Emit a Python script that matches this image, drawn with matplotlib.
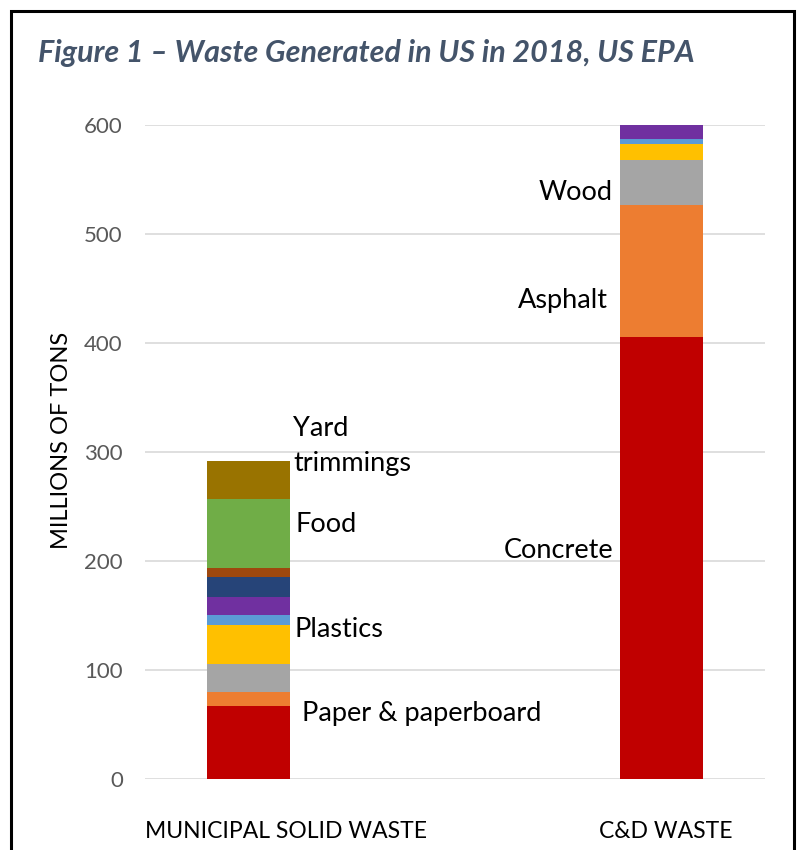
import matplotlib.pyplot as plt
import numpy as np
from matplotlib.patches import Rectangle

# EPA 2018 waste generation, millions of tons
categories = ['MUNICIPAL SOLID WASTE', 'C&D WASTE']

msw_materials = ['Paper & paperboard', 'Glass', 'Metals', 'Plastics', 'Rubber & leather',
                 'Textiles', 'Wood', 'Other', 'Food', 'Yard trimmings']
msw_tons = [67.4, 12.3, 25.6, 35.7, 9.2, 17.0, 18.1, 8.2, 63.1, 35.4]
msw_colors = ['#C00000', '#ED7D31', '#A5A5A5', '#FFC000', '#5B9BD5',
              '#7030A0', '#264478', '#9E480E', '#70AD47', '#997300']

cd_materials = ['Concrete', 'Asphalt', 'Wood', 'Drywall & plasters', 'Steel', 'Brick & clay tile']
cd_tons = [405.2, 121.7, 41.0, 15.1, 4.6, 12.4]
cd_colors = ['#C00000', '#ED7D31', '#A5A5A5', '#FFC000', '#5B9BD5', '#7030A0']

yticks = [0, 100, 200, 300, 400, 500, 600]

FONT = 'Lato'
W, H = 799, 850

fig = plt.figure(figsize=(W / 100, H / 100), dpi=100)
ax = fig.add_axes([145 / W, (H - 779) / H, 620 / W, 654 / H])


def stack(ax, x, values, colors):
    bottom = 0
    for v, c in zip(values, colors):
        ax.bar(x, v, bottom=bottom, width=0.2, color=c, linewidth=0, zorder=3)
        bottom += v


stack(ax, 0, msw_tons, msw_colors)
stack(ax, 1, cd_tons, cd_colors)

ax.set_xlim(-0.25, 1.25)
ax.set_ylim(0, 600)
ax.set_yticks(yticks)
ax.set_yticklabels([str(t) for t in yticks], fontfamily=FONT, fontsize=16, color='#595959')
ax.tick_params(axis='y', length=0, pad=16)
ax.set_xticks([])
ax.grid(axis='y', color='#D9D9D9', linewidth=1.2, zorder=0)
for s in ax.spines.values():
    s.set_visible(False)

# category names under the bars
lab_kw = dict(fontfamily=FONT, fontsize=16.5, color='black', ha='center', va='center',
              transform=ax.get_xaxis_transform(), clip_on=False)
ax.text(0.092, -0.081, categories[0], **lab_kw)
ax.text(1.01, -0.081, categories[1], **lab_kw)

# material labels beside the stacks
ann = dict(fontfamily=FONT, fontsize=19.5, color='black', va='baseline', zorder=4)
yard, trimmings = msw_materials[9].split()
ax.text(0.109, 314.7, yard.capitalize(), ha='left', **ann)
ax.text(0.109, 282.6, trimmings, ha='left', **ann)
ax.text(0.114, 226.6, msw_materials[8], ha='left', **ann)
ax.text(0.111, 130.3, msw_materials[3], ha='left', **ann)
ax.text(0.131, 53.2, msw_materials[0], ha='left', **ann)
ax.text(0.881, 531.2, cd_materials[2], ha='right', **ann)
ax.text(0.869, 432.1, cd_materials[1], ha='right', **ann)
ax.text(0.884, 202.8, cd_materials[0], ha='right', **ann)

fig.text(62 / W, 1 - 440 / H, 'MILLIONS OF TONS', rotation=90, ha='center', va='center',
         fontfamily=FONT, fontsize=17, color='black')

fig.text(38 / W, 1 - 62 / H, 'Figure 1 \u2013 Waste Generated in US in 2018, US EPA',
         ha='left', va='baseline', fontfamily=FONT, fontsize=22, fontweight='bold',
         fontstyle='italic', color='#44546A')

# frame around the figure (open at the bottom edge)
fig.add_artist(Rectangle((11 / W, -0.05), 783 / W, 1.05 - 11 / H, transform=fig.transFigure,
                         fill=False, edgecolor='black', linewidth=2.2))

fig.savefig('out.png', dpi=100)
